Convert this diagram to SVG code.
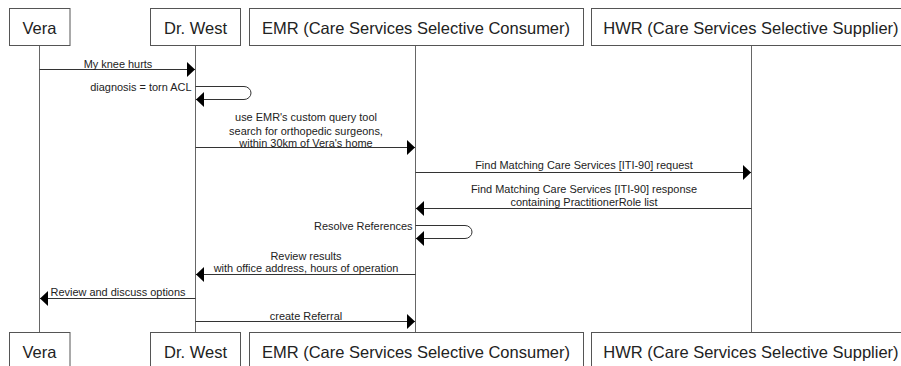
<svg xmlns="http://www.w3.org/2000/svg" width="901" height="366" viewBox="0 0 901 366">
<style>
text{font-family:"Liberation Sans",Arial,sans-serif;fill:#222}
.h{font-size:16.5px;text-anchor:middle}
.m{font-size:10.95px;text-anchor:middle}
.e{text-anchor:end}
.b{fill:#fff;stroke:#555;stroke-width:1}
.l{stroke:#666;stroke-width:1;fill:none}
.c{stroke:#333;stroke-width:1;fill:none;marker-end:url(#a)}
</style>
<defs><marker id="a" markerUnits="userSpaceOnUse" markerWidth="8" markerHeight="15" refX="8" refY="7.5" orient="auto"><path d="M0,0L8,7.5L0,15Z" fill="#000"/></marker></defs>
<g id="lifelines">
<path class="l" d="M39.5,45.5V332.5M195.5,45.5V332.5M415.5,45.5V332.5M751.5,45.5V332.5"/>
</g>
<g id="vera-top"><rect class="b" x="9.5" y="8.5" width="60.5" height="37"/><text class="h" x="39.5" y="33.5">Vera</text></g>
<g id="west-top"><rect class="b" x="150.5" y="8.5" width="90" height="37"/><text class="h" x="195.5" y="33.5">Dr. West</text></g>
<g id="emr-top"><rect class="b" x="249.5" y="8.5" width="334" height="37"/><text class="h" x="416" y="33.5">EMR (Care Services Selective Consumer)</text></g>
<g id="hwr-top"><rect class="b" x="591.5" y="8.5" width="320" height="37"/><text class="h" x="751" y="33.5">HWR (Care Services Selective Supplier)</text></g>
<g id="vera-bottom"><rect class="b" x="9.5" y="332.5" width="60.5" height="37"/><text class="h" x="39.5" y="357.5">Vera</text></g>
<g id="west-bottom"><rect class="b" x="150.5" y="332.5" width="90" height="37"/><text class="h" x="195.5" y="357.5">Dr. West</text></g>
<g id="emr-bottom"><rect class="b" x="249.5" y="332.5" width="334" height="37"/><text class="h" x="416" y="357.5">EMR (Care Services Selective Consumer)</text></g>
<g id="hwr-bottom"><rect class="b" x="591.5" y="332.5" width="320" height="37"/><text class="h" x="751" y="357.5">HWR (Care Services Selective Supplier)</text></g>
<g id="connectors">
<path class="c" d="M39.5,69.5H195"/>
<path class="c" d="M195.5,86.5H244a7,6.5 0 0 1 7,6.5a7,6.5 0 0 1 -7,6.5H196"/>
<path class="c" d="M195.5,147.5H415"/>
<path class="c" d="M415.5,172.5H751"/>
<path class="c" d="M751.5,208.5H416"/>
<path class="c" d="M415.5,225.5H465a7,6.5 0 0 1 7,6.5a7,6.5 0 0 1 -7,6.5H416"/>
<path class="c" d="M415.5,274.5H196"/>
<path class="c" d="M195.5,298.5H40"/>
<path class="c" d="M195.5,321.5H415"/>
</g>
<g id="labels">
<text class="m" x="118" y="67.5">My knee hurts</text>
<text class="m e" x="191.5" y="91">diagnosis = torn ACL</text>
<text class="m" x="306" y="121">use EMR's custom query tool</text>
<text class="m" x="306" y="134.5">search for orthopedic surgeons,</text>
<text class="m" x="306" y="146.5">within 30km of Vera's home</text>
<text class="m" x="584" y="169">Find Matching Care Services [ITI-90] request</text>
<text class="m" x="584" y="192.5">Find Matching Care Services [ITI-90] response</text>
<text class="m" x="584" y="206">containing PractitionerRole list</text>
<text class="m e" x="412.5" y="229.5">Resolve References</text>
<text class="m" x="306" y="260">Review results</text>
<text class="m" x="306" y="272">with office address, hours of operation</text>
<text class="m" x="118" y="296">Review and discuss options</text>
<text class="m" x="306" y="320">create Referral</text>
</g>
</svg>
